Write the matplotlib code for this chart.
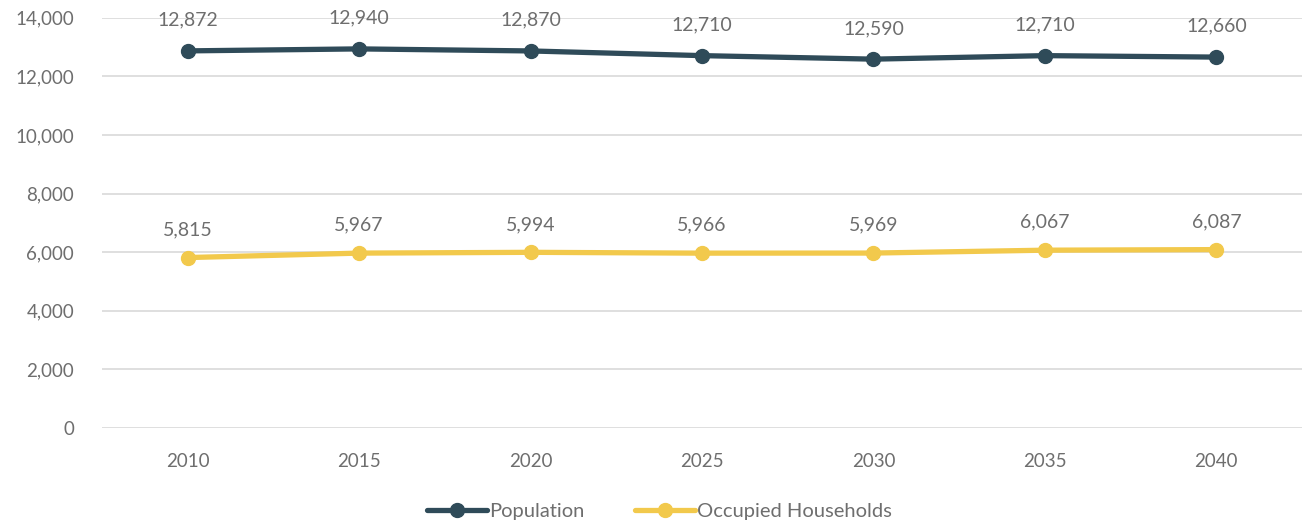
import matplotlib.pyplot as plt
from matplotlib.ticker import FuncFormatter

plt.rcParams['font.family'] = ['Lato', 'DejaVu Sans']

# Chart data
years = ['2010', '2015', '2020', '2025', '2030', '2035', '2040']
population = [12872, 12940, 12870, 12710, 12590, 12710, 12660]
households = [5815, 5967, 5994, 5966, 5969, 6067, 6087]

text_color = '#6E6E6E'
pop_color = '#2F4B59'
hh_color = '#F2C94C'

fig = plt.figure(figsize=(13.06, 5.25), dpi=100)
ax = fig.add_axes([0.078, 0.185, 0.919, 0.781])

x = range(len(years))
ax.plot(x, population, color=pop_color, lw=3.8, marker='o', ms=10,
        solid_capstyle='round', label='Population', zorder=3)
ax.plot(x, households, color=hh_color, lw=3.8, marker='o', ms=10,
        solid_capstyle='round', label='Occupied Households', zorder=3)

# Value labels above each point
for i in x:
    ax.annotate(f'{population[i]:,}', (i, population[i]), xytext=(0, 16),
                textcoords='offset points', ha='center', va='bottom',
                fontsize=14, color=text_color)
    ax.annotate(f'{households[i]:,}', (i, households[i]), xytext=(0, 14),
                textcoords='offset points', ha='center', va='bottom',
                fontsize=14, color=text_color)

ax.set_xlim(-0.5, len(years) - 0.5)
ax.set_ylim(0, 14000)
ax.set_yticks(range(0, 14001, 2000))
ax.yaxis.set_major_formatter(FuncFormatter(lambda v, p: f'{int(v):,}'))
ax.set_xticks(list(x))
ax.set_xticklabels(years)
ax.tick_params(axis='both', length=0, labelsize=13.5, colors=text_color)
ax.tick_params(axis='x', pad=18)
ax.tick_params(axis='y', pad=20)

ax.grid(axis='y', color='#D9D9D9', lw=1.2)
ax.set_axisbelow(True)
for s in ax.spines.values():
    s.set_visible(False)

leg = fig.legend(loc='lower center', ncol=2, frameon=False, fontsize=14.5,
                 bbox_to_anchor=(0.505, -0.025), handlelength=3.0,
                 handletextpad=0.1, columnspacing=2.5)
for t in leg.get_texts():
    t.set_color(text_color)

fig.savefig('out.png', dpi=100)
